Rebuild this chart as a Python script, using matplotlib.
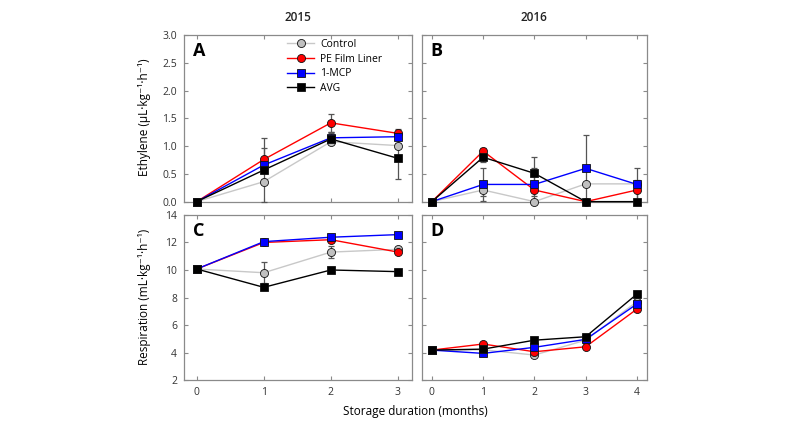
import matplotlib
matplotlib.use('Agg')
import matplotlib.pyplot as plt
import numpy as np

plt.rcParams['font.family'] = ['Open Sans', 'DejaVu Sans']

# ----------------------------------------------------------------------------------------
#                             DATA AREA

series = ['Control', 'PE Film Liner', '1-MCP', 'AVG']

months_2015 = [0, 1, 2, 3]
months_2016 = [0, 1, 2, 3, 4]

# Ethylene 2015 (panel A)
eth_2015 = {
    'Control':       [0.0, 0.36, 1.08, 1.01],
    'PE Film Liner': [0.0, 0.76, 1.42, 1.23],
    '1-MCP':         [0.0, 0.66, 1.15, 1.17],
    'AVG':           [0.0, 0.57, 1.13, 0.78],
}
eth_2015_err = {
    'Control':       [0.0, 0.05, 0.05, 0.05],
    'PE Film Liner': [0.0, 0.20, 0.16, 0.08],
    '1-MCP':         [0.0, 0.05, 0.10, 0.05],
    'AVG':           [0.0, 0.58, 0.10, 0.38],
}

# Ethylene 2016 (panel B)
eth_2016 = {
    'Control':       [0.0, 0.21, 0.0, 0.32, 0.32],
    'PE Film Liner': [0.0, 0.91, 0.21, 0.0, 0.21],
    '1-MCP':         [0.0, 0.31, 0.31, 0.60, 0.31],
    'AVG':           [0.0, 0.80, 0.51, 0.0, 0.0],
}
eth_2016_err = {
    'Control':       [0.0, 0.10, 0.0, 0.0, 0.0],
    'PE Film Liner': [0.0, 0.05, 0.10, 0.0, 0.18],
    '1-MCP':         [0.0, 0.30, 0.30, 0.60, 0.30],
    'AVG':           [0.0, 0.08, 0.29, 0.0, 0.0],
}

# Respiration 2015 (panel C)
resp_2015 = {
    'Control':       [10.07, 9.80, 11.30, 11.50],
    'PE Film Liner': [10.07, 12.00, 12.20, 11.30],
    '1-MCP':         [10.07, 12.06, 12.38, 12.57],
    'AVG':           [10.07, 8.74, 10.00, 9.88],
}
resp_2015_err = {
    'Control':       [0.1, 0.75, 0.45, 0.2],
    'PE Film Liner': [0.1, 0.1, 0.15, 0.1],
    '1-MCP':         [0.1, 0.1, 0.1, 0.1],
    'AVG':           [0.1, 0.1, 0.1, 0.1],
}

# Respiration 2016 (panel D)
resp_2016 = {
    'Control':       [4.18, 4.20, 3.82, 4.90, 7.70],
    'PE Film Liner': [4.18, 4.62, 4.06, 4.42, 7.16],
    '1-MCP':         [4.18, 3.94, 4.38, 4.96, 7.53],
    'AVG':           [4.18, 4.25, 4.90, 5.15, 8.25],
}
resp_2016_err = {
    'Control':       [0.1, 0.1, 0.1, 0.1, 0.15],
    'PE Film Liner': [0.1, 0.1, 0.1, 0.1, 0.15],
    '1-MCP':         [0.1, 0.1, 0.1, 0.1, 0.15],
    'AVG':           [0.1, 0.1, 0.1, 0.1, 0.15],
}

# ----------------------------------------------------------------------------------------
#                             PLOTTING AREA

styles = {
    'Control':       dict(marker='o', mfc='#c0c0c0', color='#c8c8c8'),
    'PE Film Liner': dict(marker='o', mfc='#ff0000', color='#ff0000'),
    '1-MCP':         dict(marker='s', mfc='#0000ff', color='#0000ff'),
    'AVG':           dict(marker='s', mfc='#000000', color='#000000'),
}

spine_col = '#8a8a8a'
text_col = '#333333'


def draw_panel(ax, x, data, err, letter, xlim, ylim, yticks, legend=False):
    for i, name in enumerate(series):
        st = styles[name]
        ax.errorbar(x, data[name], yerr=err[name], fmt='none', ecolor='#555555',
                    elinewidth=0.9, capsize=2.5, capthick=0.9, zorder=1 + i, clip_on=False)
        ax.plot(x, data[name], color=st['color'], lw=1.0, marker=st['marker'],
                mfc=st['mfc'], mec='#111111', mew=0.6, ms=5.8, label=name,
                zorder=5 + i, clip_on=False)
    ax.set_xlim(*xlim)
    ax.set_ylim(*ylim)
    ax.set_xticks(x)
    ax.set_yticks(yticks)
    ax.tick_params(direction='in', length=3, width=0.8, colors=spine_col,
                   labelcolor=text_col, labelsize=7.5, top=True, right=True, pad=5)
    for sp in ax.spines.values():
        sp.set_color(spine_col)
        sp.set_linewidth(0.9)
    ax.text(0.04, 0.96, letter, transform=ax.transAxes, fontsize=13,
            fontweight='bold', va='top', ha='left', color='black')
    if legend:
        ax.legend(loc='upper left', bbox_to_anchor=(0.42, 1.02), frameon=False,
                  fontsize=7.5, handlelength=2.6, handletextpad=0.6,
                  labelspacing=0.35, borderaxespad=0.3)


fig = plt.figure(figsize=(8, 4.29), dpi=100)

axA = fig.add_axes([0.230, 0.530, 0.285, 0.388])
axB = fig.add_axes([0.527, 0.530, 0.282, 0.388])
axC = fig.add_axes([0.230, 0.114, 0.285, 0.385])
axD = fig.add_axes([0.527, 0.114, 0.282, 0.385])

eth_ticks = [0.0, 0.5, 1.0, 1.5, 2.0, 2.5, 3.0]
resp_ticks = [2, 4, 6, 8, 10, 12, 14]

draw_panel(axA, months_2015, eth_2015, eth_2015_err, 'A', (-0.19, 3.21), (0, 3.0), eth_ticks, legend=True)
draw_panel(axB, months_2016, eth_2016, eth_2016_err, 'B', (-0.2, 4.2), (0, 3.0), eth_ticks)
draw_panel(axC, months_2015, resp_2015, resp_2015_err, 'C', (-0.19, 3.21), (2, 14), resp_ticks)
draw_panel(axD, months_2016, resp_2016, resp_2016_err, 'D', (-0.2, 4.2), (2, 14), resp_ticks)

axA.set_yticklabels(['0.0', '0.5', '1.0', '1.5', '2.0', '2.5', '3.0'])
axA.tick_params(labelbottom=False)
axB.tick_params(labelbottom=False, labelleft=False)
axD.tick_params(labelleft=False)

fig.text(0.372, 0.96, '2015', ha='center', va='center', fontsize=8.5, fontweight='semibold', color='#222222')
fig.text(0.668, 0.96, '2016', ha='center', va='center', fontsize=8.5, fontweight='semibold', color='#222222')
fig.text(0.519, 0.040, 'Storage duration (months)', ha='center', va='center', fontsize=8.5, color='black')
fig.text(0.181, 0.727, 'Ethylene (\u03bcL\u00b7kg\u207b\u00b9\u00b7h\u207b\u00b9)', ha='center', va='center',
         rotation=90, fontsize=8.5, color='black')
fig.text(0.181, 0.307, 'Respiration (mL\u00b7kg\u207b\u00b9\u00b7h\u207b\u00b9)', ha='center', va='center',
         rotation=90, fontsize=8.5, color='black')

fig.savefig('out.png', dpi=100)
